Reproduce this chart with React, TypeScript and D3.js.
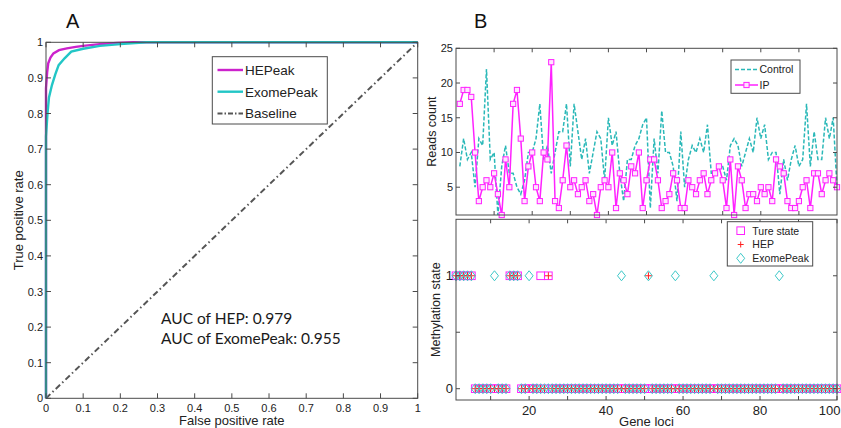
import React, { useEffect, useRef } from "react";
import * as d3 from "d3";

// ---- PANEL A: ROC CURVES ----
const hepFpr = [0, 0, 0.003, 0.006, 0.012, 0.02, 0.035, 0.056, 0.08, 0.1, 0.145, 0.19, 0.235, 1];
const hepTpr = [0, 0.871, 0.915, 0.941, 0.957, 0.969, 0.978, 0.983, 0.987, 0.99, 0.995, 0.998, 1, 1];
const exomeFpr = [0, 0, 0.004, 0.008, 0.016, 0.025, 0.034, 0.05, 0.068, 0.1, 0.145, 0.2, 0.27, 1];
const exomeTpr = [0, 0.735, 0.8, 0.845, 0.88, 0.91, 0.936, 0.955, 0.974, 0.982, 0.99, 0.995, 1, 1];
const baselineFpr = [0, 1];
const baselineTpr = [0, 1];
const rocTicks = [0, 0.1, 0.2, 0.3, 0.4, 0.5, 0.6, 0.7, 0.8, 0.9, 1];
const rocLegend = ["HEPeak", "ExomePeak", "Baseline"];
const aucLines = ["AUC of HEP: 0.979", "AUC of ExomePeak: 0.955"];

// ---- PANEL B (top): READS COUNT PER GENE LOCUS 1..100 ----
const ipCounts = [
  17, 19, 19, 18, 10, 3, 5, 6, 5, 7, 4, 1, 9, 5, 17, 19, 12, 3, 8, 10,
  5, 3, 10, 9, 23, 3, 2, 6, 11, 5, 6, 4, 5, 6, 3, 4, 1, 5, 6, 5,
  10, 2, 7, 6, 4, 8, 7, 10, 2, 6, 9, 9, 6, 2, 3, 4, 7, 6, 2, 2,
  6, 5, 4, 6, 7, 4, 6, 7, 8, 6, 2, 9, 1, 8, 6, 2, 4, 4, 3, 5,
  4, 5, 3, 9, 8, 7, 3, 2, 2, 3, 5, 6, 2, 7, 7, 4, 6, 7, 6, 5,
];
const controlCounts = [
  8, 12, 9, 10, 5, 12, 11, 22, 9, 10, 1, 8, 11, 7, 7, 5, 4, 6, 10, 10,
  12, 17, 9, 11, 7, 10, 13, 13, 17, 8, 17, 13, 9, 12, 7, 10, 13, 12, 6, 15,
  11, 13, 7, 3, 9, 9, 11, 12, 14, 15, 2, 12, 7, 16, 10, 10, 8, 3, 13, 5,
  9, 11, 10, 12, 10, 14, 7, 7, 8, 8, 6, 11, 12, 11, 8, 10, 12, 10, 15, 12,
  14, 9, 10, 10, 4, 9, 6, 9, 11, 8, 9, 17, 8, 13, 9, 9, 15, 12, 15, 5,
];
const countTicks = [5, 10, 15, 20, 25];
const readsLegend = ["Control", "IP"];

// ---- PANEL B (bottom): LOCI WITH METHYLATION STATE 1 ----
const trueStateOnes = [1, 2, 3, 4, 5, 15, 16, 17, 23, 25];
const hepOnes = [1, 2, 3, 4, 5, 15, 16, 17, 25, 51];
const exomeOnes = [1, 2, 3, 4, 5, 11, 15, 16, 17, 20, 44, 51, 58, 68, 85];
const lociTicks = [10, 20, 30, 40, 50, 60, 70, 80, 90, 100];
const lociLabels = [20, 40, 60, 80, 100];
const stateTicks = [0, 0.5, 1];
const stateLabels = [0, 1];
const stateLegend = ["Ture state", "HEP", "ExomePeak"];

const FONT = "'Liberation Sans', Arial, sans-serif";
const AXIS = "#4a4a4a";
const TEXT = "#222";
const MAG_ROC = "#cc22cc";
const CYAN_ROC = "#22c6c6";
const MAG = "#ff22ff";
const CYAN = "#2ab8b8";

export default function App() {
  const ref = useRef<SVGSVGElement | null>(null);

  useEffect(() => {
    const svg = d3.select(ref.current);
    svg.selectAll("*").remove();

    // box with inward ticks on all four sides
    const frame = (
      g: any,
      x: any,
      y: any,
      xt: number[],
      yt: number[],
      tick = 5
    ) => {
      const [x0, x1] = x.range();
      const [y0, y1] = y.range();
      g.append("rect")
        .attr("x", x0)
        .attr("y", y1)
        .attr("width", x1 - x0)
        .attr("height", y0 - y1)
        .attr("fill", "none")
        .attr("stroke", AXIS)
        .attr("stroke-width", 1);
      xt.forEach((t) => {
        const px = x(t);
        g.append("line").attr("x1", px).attr("x2", px).attr("y1", y0).attr("y2", y0 - tick).attr("stroke", AXIS);
        g.append("line").attr("x1", px).attr("x2", px).attr("y1", y1).attr("y2", y1 + tick).attr("stroke", AXIS);
      });
      yt.forEach((t) => {
        const py = y(t);
        g.append("line").attr("x1", x0).attr("x2", x0 + tick).attr("y1", py).attr("y2", py).attr("stroke", AXIS);
        g.append("line").attr("x1", x1).attr("x2", x1 - tick).attr("y1", py).attr("y2", py).attr("stroke", AXIS);
      });
    };

    // ================= PANEL A =================
    const ax = d3.scaleLinear().domain([0, 1]).range([46, 417.7]);
    const ay = d3.scaleLinear().domain([0, 1]).range([398.3, 42.3]);
    const gA = svg.append("g");

    const curve = (fpr: number[], tpr: number[]) =>
      d3
        .line<number>()
        .x((d, i) => ax(fpr[i]))
        .y((d, i) => ay(tpr[i]))(fpr);

    gA.append("path")
      .attr("d", curve(baselineFpr, baselineTpr))
      .attr("fill", "none")
      .attr("stroke", "#555")
      .attr("stroke-width", 2)
      .attr("stroke-dasharray", "6,3,1.5,3");
    gA.append("path")
      .attr("d", curve(hepFpr, hepTpr))
      .attr("fill", "none")
      .attr("stroke", MAG_ROC)
      .attr("stroke-width", 2.4);
    gA.append("path")
      .attr("d", curve(exomeFpr, exomeTpr))
      .attr("fill", "none")
      .attr("stroke", CYAN_ROC)
      .attr("stroke-width", 2.4);

    frame(gA, ax, ay, rocTicks, rocTicks, 5);

    rocTicks.forEach((t) => {
      gA.append("text")
        .attr("x", ax(t))
        .attr("y", 411.5)
        .attr("text-anchor", "middle")
        .attr("font-size", 11)
        .attr("fill", TEXT)
        .text(d3.format("~g")(t));
      gA.append("text")
        .attr("x", 43)
        .attr("y", ay(t) + 4)
        .attr("text-anchor", "end")
        .attr("font-size", 11)
        .attr("fill", TEXT)
        .text(d3.format("~g")(t));
    });

    gA.append("text")
      .attr("x", ax(0.5))
      .attr("y", 425)
      .attr("text-anchor", "middle")
      .attr("font-size", 13)
      .attr("fill", TEXT)
      .text("False positive rate");
    gA.append("text")
      .attr("transform", `translate(23,${ay(0.5)}) rotate(-90)`)
      .attr("text-anchor", "middle")
      .attr("font-size", 13)
      .attr("fill", TEXT)
      .text("True positive rate");
    gA.append("text")
      .attr("x", 66)
      .attr("y", 28)
      .attr("font-size", 20)
      .attr("fill", "#111")
      .text("A");

    // legend A
    const legA = gA.append("g");
    legA.append("rect")
      .attr("x", 212.3)
      .attr("y", 56.7)
      .attr("width", 115)
      .attr("height", 67.3)
      .attr("fill", "#fff")
      .attr("stroke", AXIS);
    const legStyles = [
      { stroke: MAG_ROC, dash: null, w: 2.4 },
      { stroke: CYAN_ROC, dash: null, w: 2.4 },
      { stroke: "#555", dash: "5,2,1.5,2", w: 2 },
    ];
    rocLegend.forEach((name, i) => {
      const ly = 70 + i * 21.7;
      legA.append("line")
        .attr("x1", 217.5)
        .attr("x2", 243)
        .attr("y1", ly)
        .attr("y2", ly)
        .attr("stroke", legStyles[i].stroke)
        .attr("stroke-width", legStyles[i].w)
        .attr("stroke-dasharray", legStyles[i].dash);
      legA.append("text")
        .attr("x", 245)
        .attr("y", ly + 5)
        .attr("font-size", 13.5)
        .attr("fill", TEXT)
        .text(name);
    });

    aucLines.forEach((s, i) => {
      gA.append("text")
        .attr("x", 161)
        .attr("y", 323.5 + i * 20.7)
        .attr("font-family", "Lato, 'Open Sans', sans-serif")
        .attr("font-size", 15.5)
        .attr("fill", "#1a1a1a")
        .text(s);
    });

    // ================= PANEL B (top) =================
    const bx = d3.scaleLinear().domain([0, 100]).range([456, 837]);
    const by = d3.scaleLinear().domain([1, 25]).range([215, 48.3]);
    const gB = svg.append("g");
    const loci = ipCounts.map((_, i) => i + 1);

    gB.append("path")
      .attr(
        "d",
        d3
          .line<number>()
          .x((d) => bx(d))
          .y((d, i) => by(controlCounts[i]))(loci)
      )
      .attr("fill", "none")
      .attr("stroke", CYAN)
      .attr("stroke-width", 1.5)
      .attr("stroke-dasharray", "4,2");
    gB.append("path")
      .attr(
        "d",
        d3
          .line<number>()
          .x((d) => bx(d))
          .y((d, i) => by(ipCounts[i]))(loci)
      )
      .attr("fill", "none")
      .attr("stroke", MAG)
      .attr("stroke-width", 1.5);
    gB.selectAll(".ipm")
      .data(loci)
      .enter()
      .append("rect")
      .attr("x", (d) => bx(d) - 2.6)
      .attr("y", (d, i) => by(ipCounts[i]) - 2.6)
      .attr("width", 5.2)
      .attr("height", 5.2)
      .attr("fill", "#ffe4ff")
      .attr("stroke", MAG)
      .attr("stroke-width", 1);

    frame(gB, bx, by, [10, 20, 30, 40, 50, 60, 70, 80, 90], countTicks, 4);
    countTicks.forEach((t) => {
      gB.append("text")
        .attr("x", 453)
        .attr("y", by(t) + 4)
        .attr("text-anchor", "end")
        .attr("font-size", 11)
        .attr("fill", TEXT)
        .text(t);
    });
    gB.append("text")
      .attr("transform", `translate(436,${by(13)}) rotate(-90)`)
      .attr("text-anchor", "middle")
      .attr("font-size", 12.5)
      .attr("fill", TEXT)
      .text("Reads count");
    gB.append("text")
      .attr("x", 474)
      .attr("y", 28)
      .attr("font-size", 20)
      .attr("fill", "#111")
      .text("B");

    // legend B top
    const legB = gB.append("g");
    legB.append("rect")
      .attr("x", 731)
      .attr("y", 60)
      .attr("width", 69)
      .attr("height", 33.3)
      .attr("fill", "#fff")
      .attr("stroke", AXIS);
    readsLegend.forEach((name, i) => {
      const ly = 69.5 + i * 15.5;
      legB.append("line")
        .attr("x1", 735)
        .attr("x2", 758)
        .attr("y1", ly)
        .attr("y2", ly)
        .attr("stroke", i === 0 ? CYAN : MAG)
        .attr("stroke-width", 1.5)
        .attr("stroke-dasharray", i === 0 ? "4,2" : null);
      if (i === 1) {
        legB.append("rect")
          .attr("x", 743.9)
          .attr("y", ly - 2.6)
          .attr("width", 5.2)
          .attr("height", 5.2)
          .attr("fill", "#ffe4ff")
          .attr("stroke", MAG);
      }
      legB.append("text")
        .attr("x", 759.5)
        .attr("y", ly + 3.8)
        .attr("font-size", 10.5)
        .attr("fill", TEXT)
        .text(name);
    });

    // ================= PANEL B (bottom) =================
    const cx = d3.scaleLinear().domain([1, 100]).range([456, 837]);
    const cy = d3.scaleLinear().domain([-0.1, 1.5]).range([400, 219.3]);
    const gC = svg.append("g");
    const state = (ones: number[]) => (d: number) => (ones.includes(d) ? 1 : 0);
    const sTrue = state(trueStateOnes);
    const sHep = state(hepOnes);
    const sExo = state(exomeOnes);

    gC.selectAll(".ts")
      .data(loci)
      .enter()
      .append("rect")
      .attr("x", (d) => cx(d) - 3.8)
      .attr("y", (d) => cy(sTrue(d)) - 3.8)
      .attr("width", 7.6)
      .attr("height", 7.6)
      .attr("fill", "none")
      .attr("stroke", MAG)
      .attr("stroke-width", 1);
    gC.selectAll(".hp")
      .data(loci)
      .enter()
      .append("path")
      .attr("d", (d) => {
        const px = cx(d);
        const py = cy(sHep(d));
        return `M${px - 3.5},${py}H${px + 3.5}M${px},${py - 3.5}V${py + 3.5}`;
      })
      .attr("stroke", "#ff2020")
      .attr("stroke-width", 1);
    gC.selectAll(".ex")
      .data(loci)
      .enter()
      .append("path")
      .attr("d", (d) => {
        const px = cx(d);
        const py = cy(sExo(d));
        return `M${px},${py - 5}L${px + 4},${py}L${px},${py + 5}L${px - 4},${py}Z`;
      })
      .attr("fill", "none")
      .attr("stroke", "#3cc8c8")
      .attr("stroke-width", 1);

    frame(gC, cx, cy, lociTicks, stateTicks, 4);
    lociLabels.forEach((t) => {
      // the last label sits on the right edge; keep it inside the picture
      const last = t === 100;
      gC.append("text")
        .attr("x", last ? 840.5 : cx(t))
        .attr("y", 414.5)
        .attr("text-anchor", last ? "end" : "middle")
        .attr("font-size", 13)
        .attr("fill", TEXT)
        .text(t);
    });
    stateLabels.forEach((t) => {
      gC.append("text")
        .attr("x", 453)
        .attr("y", cy(t) + 4.5)
        .attr("text-anchor", "end")
        .attr("font-size", 13)
        .attr("fill", TEXT)
        .text(t);
    });
    gC.append("text")
      .attr("x", (456 + 837) / 2)
      .attr("y", 425.5)
      .attr("text-anchor", "middle")
      .attr("font-size", 13)
      .attr("fill", TEXT)
      .text("Gene loci");
    gC.append("text")
      .attr("transform", `translate(440,${cy(0.7)}) rotate(-90)`)
      .attr("text-anchor", "middle")
      .attr("font-size", 12.5)
      .attr("fill", TEXT)
      .text("Methylation state");

    // legend B bottom
    const legC = gC.append("g");
    legC.append("rect")
      .attr("x", 727.3)
      .attr("y", 221.7)
      .attr("width", 85.4)
      .attr("height", 44.3)
      .attr("fill", "#fff")
      .attr("stroke", AXIS);
    stateLegend.forEach((name, i) => {
      const ly = 230.7 + i * 13.8;
      const mx = 740.7;
      if (i === 0) {
        legC.append("rect")
          .attr("x", mx - 3.8)
          .attr("y", ly - 3.8)
          .attr("width", 7.6)
          .attr("height", 7.6)
          .attr("fill", "none")
          .attr("stroke", MAG);
      } else if (i === 1) {
        legC.append("path")
          .attr("d", `M${mx - 3},${ly}H${mx + 3}M${mx},${ly - 3}V${ly + 3}`)
          .attr("stroke", "#ff2020");
      } else {
        legC.append("path")
          .attr("d", `M${mx},${ly - 5}L${mx + 4},${ly}L${mx},${ly + 5}L${mx - 4},${ly}Z`)
          .attr("fill", "none")
          .attr("stroke", "#3cc8c8");
      }
      legC.append("text")
        .attr("x", 752.3)
        .attr("y", ly + 3.8)
        .attr("font-size", 10.5)
        .attr("fill", TEXT)
        .text(name);
    });
  }, []);

  return (
    <svg
      ref={ref}
      width={841}
      height={428}
      style={{ position: "absolute", left: 0, top: 0, background: "#fff", fontFamily: FONT }}
    />
  );
}
